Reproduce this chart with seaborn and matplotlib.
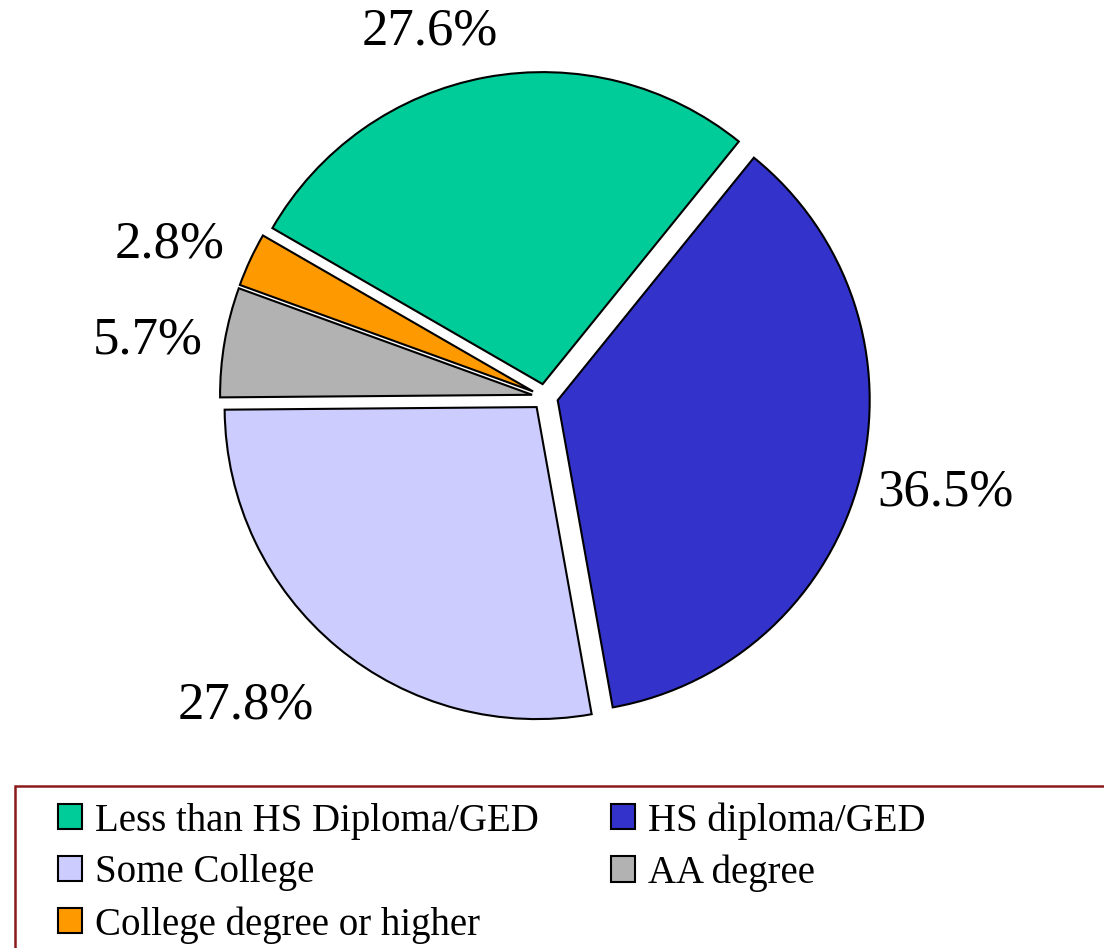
import numpy as np
import matplotlib
matplotlib.use("Agg")
import matplotlib.pyplot as plt
import matplotlib.patches as mpatches
import seaborn as sns

# ---- data ----
categories = ["Less than HS Diploma/GED", "HS diploma/GED", "Some College",
              "AA degree", "College degree or higher"]
values = [27.6, 36.5, 27.8, 5.7, 2.8]
colors = ["#00CC99", "#3333CC", "#CCCCFF", "#B2B2B2", "#FF9900"]
pct_labels = ["27.6%", "36.5%", "27.8%", "5.7%", "2.8%"]

# label placement style (distance from centre in radii, angular shift in degrees)
label_dist = [1.227, 1.318, 1.378, 1.285, 1.297]
label_shift = [7.0, 1.0, -4.4, 1.6, 2.9]

sns.set_theme(style="white")
plt.rcParams["font.family"] = ["Liberation Serif", "DejaVu Serif"]
plt.rcParams["text.color"] = "black"

W, H = 1104, 948
fig = plt.figure(figsize=(W / 100, H / 100), dpi=100)
ax = fig.add_axes([0, 0, 1, 1])

R_PX = 312.0
CX, CY = 545.0, 397.0

wedges, _ = ax.pie(values, colors=colors, startangle=150, counterclock=False,
                   explode=[0.042] * len(values), radius=1.0,
                   wedgeprops=dict(edgecolor="black", linewidth=1.5))

for w, lab, d, s in zip(wedges, pct_labels, label_dist, label_shift):
    mid = np.deg2rad((w.theta1 + w.theta2) / 2 + s)
    ax.text(d * np.cos(mid), d * np.sin(mid), lab, ha="center", va="center",
            fontsize=38, color="black")

ax.set_xlim(-CX / R_PX, (W - CX) / R_PX)
ax.set_ylim(-(H - CY) / R_PX, CY / R_PX)
ax.set_aspect("equal", adjustable="box")
ax.axis("off")

# legend (row-wise order: reorder for column-major filling)
order = [0, 2, 4, 1, 3]
handles = [mpatches.Patch(facecolor=colors[i], edgecolor="black", linewidth=1.5) for i in order]
labels = [categories[i] for i in order]
leg = fig.legend(handles, labels, ncol=2, loc="upper left",
                 bbox_to_anchor=(58 / W, 1 - 802 / H), bbox_transform=fig.transFigure,
                 frameon=False, fontsize=28, handlelength=0.62, handleheight=0.62,
                 handletextpad=0.33, columnspacing=1.85, labelspacing=0.38,
                 borderpad=0, borderaxespad=0, labelcolor="black")

frame = mpatches.Rectangle((15 / W, -0.2), 1.2, 0.2 + (H - 786) / H,
                           transform=fig.transFigure, fill=False,
                           edgecolor="#8B1A1A", linewidth=1.8, clip_on=False)
fig.patches.append(frame)

fig.savefig("out.png", dpi=100)
